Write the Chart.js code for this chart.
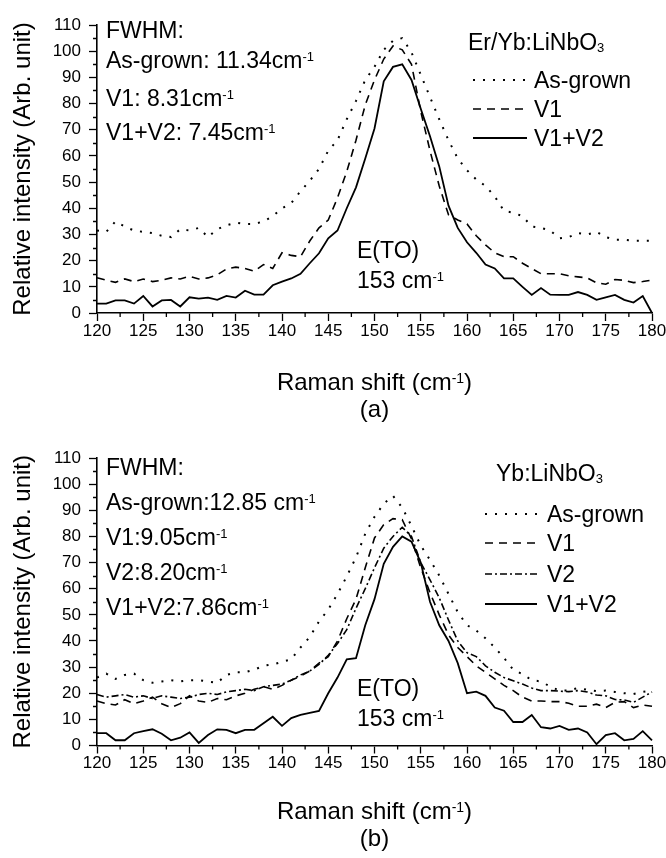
<!DOCTYPE html>
<html lang="en">
<head>
<meta charset="UTF-8" />
<title>Raman spectra, E(TO) mode</title>
<script src="https://cdn.jsdelivr.net/npm/chart.js"></script>
<style>
  body { margin: 0; background: #fff; }
  canvas { display: block; }
</style>
</head>
<body>
<canvas id="chartA" width="666" height="429"></canvas>
<canvas id="chartB" width="666" height="429"></canvas>
<script>
const FONT = '"Liberation Sans", Arial, sans-serif';

// Raman shift (cm-1), shared by every series
const shift = [
  120, 121, 122, 123, 124, 125, 126, 127, 128, 129,
  130, 131, 132, 133, 134, 135, 136, 137, 138, 139,
  140, 141, 142, 143, 144, 145, 146, 147, 148, 149,
  150, 151, 152, 153, 154, 155, 156, 157, 158, 159,
  160, 161, 162, 163, 164, 165, 166, 167, 168, 169,
  170, 171, 172, 173, 174, 175, 176, 177, 178, 179,
  180
];

// (a) Er/Yb:LiNbO3
const erAsGrown = [
  31.5, 31, 35, 33, 31.5, 31, 30.5, 29.5, 29, 32,
  31.5, 32.5, 29, 32, 33.5, 34.5, 34, 34, 35, 37,
  40, 42, 46.5, 50.5, 55, 62, 66, 74, 81, 89,
  94, 100.5, 104, 105, 99.5, 91, 82.5, 74, 66, 59,
  54.5, 51, 48.5, 44.5, 39, 38.3, 37, 33, 32.5, 31.5,
  28.5, 29, 30.5, 30, 31, 29, 28, 28, 27.6, 27.6,
  27.6
];
const erV1 = [
  13.5, 12.5, 11.7, 13, 12, 13, 12, 12.5, 13.4, 13,
  14, 13, 13.4, 14.6, 16.8, 17.5, 17, 16, 18.5, 17,
  23, 22, 21.5, 27.5, 32.5, 35.5, 44, 54, 66, 79.5,
  89, 97, 102, 100.5, 95, 77, 62, 48.5, 37.5, 35.5,
  34, 29.5, 26, 23, 21.5, 21.5, 19, 17, 15, 15,
  15, 14.2, 13.8, 13.4, 11.5, 11, 12.8, 12.5, 11.6, 12,
  12.6
];
const erV1V2 = [
  3.6, 3.6, 4.8, 4.8, 3.6, 6.5, 2.5, 4.8, 5, 2.5,
  6, 5.5, 5.9, 5, 6.5, 5.9, 8.5, 7, 7, 10.6,
  12, 13.2, 15, 19, 22.8, 28.5, 31.5, 40, 48, 59,
  70.5, 88.5, 94, 95, 89, 78, 67.5, 56, 41, 32.5,
  27, 23, 18.5, 17, 13.2, 13.2, 10, 6.9, 9.5, 7,
  6.9, 6.9, 8, 6.9, 5, 6, 6.9, 5, 4, 6.5,
  0
];

// (b) Yb:LiNbO3
const ybAsGrown = [
  26, 27.5, 25.5, 27, 27.5, 25, 24, 24.5, 25, 24.5,
  25, 25, 24.5, 24, 27, 28, 28, 29, 30.5, 31,
  32, 33, 37.5, 41.5, 47.5, 52, 58, 64.7, 72, 81,
  87.5, 92.5, 95.5, 91, 84, 76.5, 71, 65, 58, 51,
  46, 44, 41, 37.5, 33.5, 29, 27.3, 25, 24.5, 22.5,
  21, 21, 22, 21.3, 20.8, 21, 20.5, 20, 19.7, 20.5,
  21
];
const ybV1 = [
  17, 16, 15.5, 17.5, 16, 17, 18.5, 16, 14.5, 16,
  19, 17, 16.5, 18, 17.5, 19, 20, 21.5, 22.5, 21.5,
  23, 25, 26.5, 28.5, 31.5, 34, 40, 48.5, 56, 68,
  79.4, 84.5, 86.8, 86.4, 79, 68, 58.5, 50, 42.3, 37.5,
  34, 30.5, 28, 25.5, 23, 21, 18.5, 17, 17, 16.8,
  16.8, 16.2, 15, 15, 15.8, 14.5, 16.5, 16.8, 14.5, 15.5,
  15
];
const ybV2 = [
  19.5, 18.5, 19, 19.5, 18.5, 19, 18, 19, 18.5, 18,
  18.5, 19.5, 20, 19.5, 20.5, 21, 21.5, 21, 22.5, 23,
  23.5, 25, 27, 28.5, 31, 34.5, 39, 44.3, 52.5, 60,
  68, 75.5, 80, 83.5, 80, 70, 63.4, 56.5, 48, 40,
  35.5, 34, 30.5, 28, 26, 24.8, 23.5, 22, 21, 21,
  20.8, 20.6, 21, 20.5, 19.3, 19, 17.6, 17.4, 16.5, 18.5,
  20.5
];
const ybV1V2 = [
  4.7, 4.7, 2, 2, 4.7, 5.5, 6.2, 4.5, 2, 3,
  5, 1, 4, 6.2, 6, 4.7, 6, 6, 8.5, 11,
  7.5, 10.5, 11.7, 12.5, 13.2, 20, 26, 33, 33.4, 46,
  56, 69.5, 76, 80, 78, 70, 55, 46, 40, 31.5,
  20, 20.6, 19, 14.5, 13.3, 9, 9, 11.7, 7, 6.5,
  7.5, 6, 6.5, 5, 0.5, 4, 4.7, 2, 2.5, 5.5,
  2
];

const lineStyle = {
  'As-grown': { dash: [2, 8], width: 2 },
  'V1': { dash: [8, 6], width: 1.6 },
  'V2': { dash: [7, 3, 2, 3], width: 1.6 },
  'V1+V2': { dash: [], width: 1.8 },
};

// parts: [text, 0 normal | 1 superscript | -1 subscript]
function drawRich(ctx, parts, x, y, size, align) {
  const small = Math.round(size * 0.58);
  if (align === 'center') {
    let w = 0;
    for (const [t, m] of parts) {
      ctx.font = (m ? small : size) + 'px ' + FONT;
      w += ctx.measureText(t).width;
    }
    x -= w / 2;
  }
  ctx.textAlign = 'left';
  ctx.textBaseline = 'alphabetic';
  for (const [t, m] of parts) {
    ctx.font = (m ? small : size) + 'px ' + FONT;
    const dy = m === 1 ? -size * 0.3 : m === -1 ? size * 0.08 : 0;
    ctx.fillText(t, x, y + dy);
    x += ctx.measureText(t).width;
  }
}

function makePanel(canvasId, cfg) {
  const H = 429;
  const datasets = cfg.series.map(s => ({
    label: s.label,
    data: shift.map((x, i) => ({ x, y: s.values[i] })),
    borderColor: '#000',
    borderWidth: lineStyle[s.label].width,
    borderDash: lineStyle[s.label].dash,
    pointRadius: 0,
    tension: 0,
    fill: false,
    clip: false,
  }));

  const panelText = {
    id: 'panelText',
    afterDraw(chart) {
      const ctx = chart.ctx;
      const xs = chart.scales.x, ys = chart.scales.y;
      const area = chart.chartArea;
      ctx.save();
      ctx.fillStyle = '#000';
      ctx.strokeStyle = '#000';

      // minor ticks
      ctx.lineWidth = 1.3;
      ctx.beginPath();
      for (let v = 122.5; v < 180; v += 5) {
        const px = xs.getPixelForValue(v);
        ctx.moveTo(px, area.bottom);
        ctx.lineTo(px, area.bottom + 4);
      }
      for (let v = 5; v < 110; v += 10) {
        const py = Math.round(ys.getPixelForValue(v)) + 0.5;
        ctx.moveTo(area.left, py);
        ctx.lineTo(area.left - 4, py);
      }
      ctx.stroke();

      // axis titles
      ctx.save();
      ctx.translate(23, (area.top + area.bottom) / 2);
      ctx.rotate(-Math.PI / 2);
      ctx.font = '24px ' + FONT;
      ctx.textAlign = 'center';
      ctx.textBaseline = 'middle';
      ctx.fillText('Relative intensity (Arb. unit)', 0, 0);
      ctx.restore();
      const cx = (area.left + area.right) / 2;
      drawRich(ctx, [['Raman shift (cm', 0], ['-1', 1], [')', 0]], cx, 390, 24, 'center');
      drawRich(ctx, [[cfg.letter, 0]], cx, 417, 24, 'center');

      // FWHM block
      cfg.fwhm.forEach((parts, i) => drawRich(ctx, parts, 106, cfg.fwhmY[i], 23, 'left'));

      // sample name
      drawRich(ctx, cfg.sample, cfg.sampleX, cfg.sampleY, 23, 'left');

      // legend
      chart.data.datasets.forEach((ds, i) => {
        const ry = cfg.legendY[i];
        ctx.setLineDash(ds.borderDash);
        ctx.lineWidth = ds.borderWidth;
        ctx.beginPath();
        ctx.moveTo(cfg.legendX[0], ry);
        ctx.lineTo(cfg.legendX[1], ry);
        ctx.stroke();
        ctx.setLineDash([]);
        drawRich(ctx, [[ds.label, 0]], cfg.legendX[2], ry + 8, 23, 'left');
      });

      // mode label
      drawRich(ctx, [['E(TO)', 0]], 357, cfg.modeY[0], 23, 'left');
      drawRich(ctx, [['153 cm', 0], ['-1', 1]], 357, cfg.modeY[1], 23, 'left');
      ctx.restore();
    }
  };

  const axisStyle = {
    grid: { display: true, drawOnChartArea: false, drawTicks: true, tickLength: 8,
            color: '#000', tickColor: '#000', tickWidth: 1.3 },
    border: { display: true, color: '#000', width: 1.6 },
  };

  return new Chart(document.getElementById(canvasId), {
    type: 'line',
    data: { datasets },
    options: {
      responsive: false,
      animation: false,
      devicePixelRatio: 1,
      layout: { padding: 0 },
      plugins: { legend: { display: false }, tooltip: { enabled: false } },
      scales: {
        x: {
          type: 'linear', min: 120, max: 180,
          ticks: { stepSize: 5, font: { family: FONT, size: 17 }, color: '#000',
                   padding: 0, maxRotation: 0, autoSkip: false },
          ...axisStyle,
          afterFit(scale) {
            scale.height = H - cfg.plotBottom;
            scale.paddingLeft = 0;
            scale.paddingRight = 14;
          },
        },
        y: {
          type: 'linear', min: 0, max: 110,
          ticks: { stepSize: 10, font: { family: FONT, size: 17 }, color: '#000', padding: 8 },
          ...axisStyle,
          afterFit(scale) {
            scale.width = 97;
            scale.paddingTop = cfg.plotTop;
            scale.paddingBottom = 0;
          },
        },
      },
    },
    plugins: [panelText],
  });
}

makePanel('chartA', {
  plotTop: 25, plotBottom: 313,
  series: [
    { label: 'As-grown', values: erAsGrown },
    { label: 'V1', values: erV1 },
    { label: 'V1+V2', values: erV1V2 },
  ],
  letter: '(a)',
  fwhm: [
    [['FWHM:', 0]],
    [['As-grown: 11.34cm', 0], ['-1', 1]],
    [['V1: 8.31cm', 0], ['-1', 1]],
    [['V1+V2: 7.45cm', 0], ['-1', 1]],
  ],
  fwhmY: [38, 68, 106, 140],
  sample: [['Er/Yb:LiNbO', 0], ['3', -1]],
  sampleX: 468, sampleY: 50,
  legendX: [473, 527, 534],
  legendY: [80, 109, 138],
  modeY: [258, 288],
});

makePanel('chartB', {
  plotTop: 29, plotBottom: 316.5,
  series: [
    { label: 'As-grown', values: ybAsGrown },
    { label: 'V1', values: ybV1 },
    { label: 'V2', values: ybV2 },
    { label: 'V1+V2', values: ybV1V2 },
  ],
  letter: '(b)',
  fwhm: [
    [['FWHM:', 0]],
    [['As-grown:12.85 cm', 0], ['-1', 1]],
    [['V1:9.05cm', 0], ['-1', 1]],
    [['V2:8.20cm', 0], ['-1', 1]],
    [['V1+V2:7.86cm', 0], ['-1', 1]],
  ],
  fwhmY: [46, 81, 116, 151, 186],
  sample: [['Yb:LiNbO', 0], ['3', -1]],
  sampleX: 496, sampleY: 52,
  legendX: [485, 537, 547],
  legendY: [85, 114, 145, 175],
  modeY: [267, 297],
});
</script>
</body>
</html>
